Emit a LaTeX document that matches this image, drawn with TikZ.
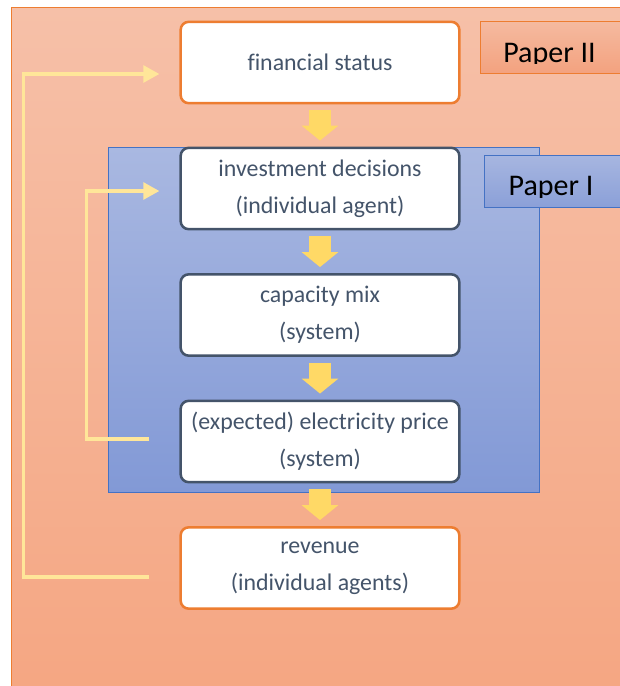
\documentclass[tikz,border=0pt]{standalone}
\usepackage{fontspec}
\setmainfont{Carlito}[Ligatures=CommonOff]
\usetikzlibrary{arrows.meta,calc}
\definecolor{slate}{HTML}{44546A}
\definecolor{orangeln}{HTML}{ED7D31}
\definecolor{blueln}{HTML}{4472C4}
\definecolor{flowyel}{HTML}{FFD966}
\definecolor{loopyel}{HTML}{FFE699}
\definecolor{bgtop}{HTML}{F6C0A8}
\definecolor{bgbot}{HTML}{F5A682}
\tikzset{
  stage/.style={rectangle,rounded corners=6pt,fill=white,line width=1.9pt,
    minimum width=209pt,minimum height=61pt,align=center,text=slate,
    font=\fontsize{17.9}{27.5}\selectfont},      % process step
  ext/.style={stage,draw=orangeln},              % agent-level step
  core/.style={stage,draw=slate},                % market-level step
  flow/.style={-{Triangle[length=11.25pt,width=27pt]},flowyel,line width=17pt},
  fback/.style={-{Triangle[length=12pt,width=12.5pt]},loopyel,line width=2.6pt},
  tag/.style={anchor=base,font=\fontsize{22.5}{26}\selectfont,text=black},
}

\begin{document}
\begin{tikzpicture}[x=0.75pt,y=-0.75pt]
  \path[use as bounding box,clip] (0,0) rectangle (620,686);
  % frames
  \draw[draw=orangeln,top color=bgtop,bottom color=bgbot] (11,7.5) rectangle (630,700);
  \draw[draw=blueln,top color={rgb,255:red,169;green,184;blue,225},bottom color={rgb,255:red,130;green,153;blue,214}] (108,147) rectangle (539,492);
  \draw[draw=orangeln,top color={rgb,255:red,245;green,186;blue,160},bottom color={rgb,255:red,243;green,162;blue,127}] (480,21) rectangle (630,73);
  \draw[draw=blueln,top color={rgb,255:red,167;green,182;blue,224},bottom color={rgb,255:red,139;green,160;blue,216}] (484.5,155) rectangle (630,207);
  \begin{scope}
    \clip (480,21) rectangle (630,63.5);
    \node[tag] (p2) at (549.5,62) {Paper II};
  \end{scope}
  \begin{scope}
    \clip (484,155) rectangle (630,197);
    \node[tag] (p1) at (551,195) {Paper I};
  \end{scope}

  % steps
  \node[ext]  (fin)   at (320,62.5)  {financial status};
  \node[core] (inv)   at (320,188.5) {investment decisions\\(individual agent)};
  \node[core] (cap)   at (320,315)   {capacity mix\\(system)};
  \node[core] (price) at (320,441.5) {(expected) electricity price\\(system)};
  \node[ext]  (rev)   at (320,568)   {revenue\\(individual agents)};

  \foreach \a/\b in {fin/inv,inv/cap,cap/price,price/rev}
    \draw[flow] ($(\a.south)+(0,6)$) -- ($(\b.north)+(0,-6)$);

  % feedback loops
  \coordinate (outS) at ($(rev.west)+(-30,9)$);
  \coordinate (outE) at ($(fin.west)+(-20,11.5)$);
  \coordinate (inS)  at ($(price.west)+(-30,-2.5)$);
  \coordinate (inE)  at ($(inv.west)+(-20,2.5)$);
  \draw[fback] (outS) -- ++(-126,0) |- (outE);
  \draw[fback] (inS) -- ++(-63,0) |- (inE);
\end{tikzpicture}
\end{document}
